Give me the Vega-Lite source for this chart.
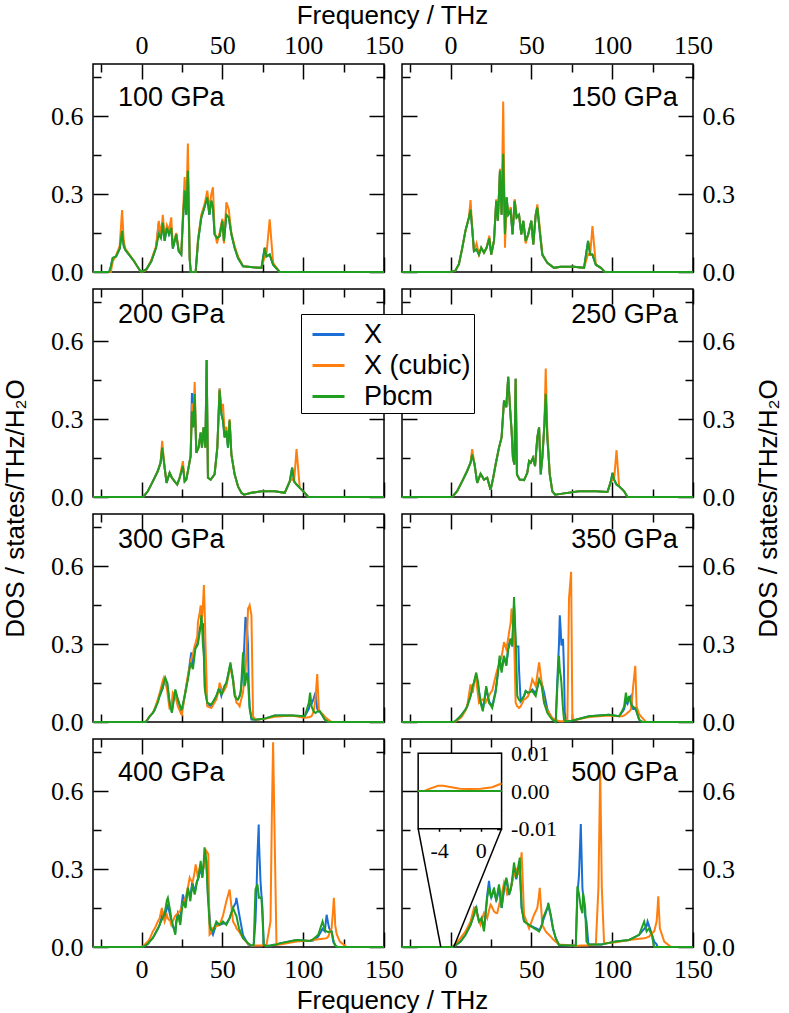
{
  "$schema": "https://vega.github.io/schema/vega-lite/v6.json",
  "padding": {"left": 2, "top": 3, "right": 0, "bottom": 0},
  "background": "white",
  "config": {
    "view": {"stroke": "black", "strokeWidth": 1.5},
    "axis": {"domain": false, "grid": false, "ticks": true, "tickSize": -15, "tickColor": "black", "tickWidth": 1.5, "labels": false, "labelFont": "Liberation Serif", "labelFontSize": 26, "labelColor": "black", "labelFlush": false, "labelOverlap": false},
    "axisBottom": {"labelPadding": 24},
    "axisTop": {"labelPadding": 21},
    "axisLeft": {"labelPadding": 25},
    "axisRight": {"labelPadding": 24},
    "title": {"font": "Liberation Sans", "fontSize": 26, "fontWeight": "normal", "color": "black", "anchor": "middle"}
  },
  "datasets": {
    "dos": [
      {"p":100,"f":-30,"X":0,"C":0,"P":0},{"p":100,"f":-20,"X":0,"C":0,"P":0},{"p":100,"f":-19,"X":0.02,"C":0,"P":0.02},{"p":100,"f":-17.8,"X":0.054,"C":0.04,"P":0.054},{"p":100,"f":-15.7,"X":0.06,"C":0.065,"P":0.06},{"p":100,"f":-13.5,"X":0.09,"C":0.1,"P":0.09},{"p":100,"f":-12,"X":0.158,"C":0.238,"P":0.158},{"p":100,"f":-11,"X":0.1,"C":0.12,"P":0.1},{"p":100,"f":-10,"X":0.085,"C":0.09,"P":0.085},{"p":100,"f":-5,"X":0.045,"C":0.045,"P":0.045},{"p":100,"f":-1,"X":0.006,"C":0.006,"P":0.006},{"p":100,"f":0,"X":0,"C":0,"P":0},{"p":100,"f":3,"X":0.01,"C":0.008,"P":0.01},{"p":100,"f":6,"X":0.04,"C":0.045,"P":0.04},{"p":100,"f":9,"X":0.093,"C":0.1,"P":0.093},{"p":100,"f":10.7,"X":0.19,"C":0.197,"P":0.145},{"p":100,"f":12,"X":0.13,"C":0.14,"P":0.13},{"p":100,"f":13.2,"X":0.19,"C":0.22,"P":0.19},{"p":100,"f":14.3,"X":0.12,"C":0.13,"P":0.12},{"p":100,"f":15.7,"X":0.17,"C":0.18,"P":0.17},{"p":100,"f":17,"X":0.145,"C":0.16,"P":0.145},{"p":100,"f":18.4,"X":0.17,"C":0.21,"P":0.17},{"p":100,"f":19.4,"X":0.09,"C":0.1,"P":0.09},{"p":100,"f":21.5,"X":0.145,"C":0.15,"P":0.145},{"p":100,"f":23,"X":0.08,"C":0.085,"P":0.08},{"p":100,"f":24.6,"X":0.067,"C":0.07,"P":0.067},{"p":100,"f":25.6,"X":0.197,"C":0.22,"P":0.197},{"p":100,"f":26.7,"X":0.313,"C":0.365,"P":0.313},{"p":100,"f":27.7,"X":0.22,"C":0.24,"P":0.22},{"p":100,"f":28.7,"X":0.39,"C":0.494,"P":0.39},{"p":100,"f":29.8,"X":0.05,"C":0.05,"P":0.05},{"p":100,"f":30.5,"X":0,"C":0,"P":0},{"p":100,"f":33.5,"X":0,"C":0,"P":0},{"p":100,"f":35,"X":0.12,"C":0.13,"P":0.12},{"p":100,"f":37,"X":0.21,"C":0.22,"P":0.21},{"p":100,"f":39,"X":0.25,"C":0.26,"P":0.25},{"p":100,"f":40.7,"X":0.287,"C":0.313,"P":0.287},{"p":100,"f":42,"X":0.22,"C":0.24,"P":0.22},{"p":100,"f":43.2,"X":0.274,"C":0.3,"P":0.274},{"p":100,"f":44.2,"X":0.25,"C":0.326,"P":0.25},{"p":100,"f":45.2,"X":0.145,"C":0.16,"P":0.145},{"p":100,"f":46.7,"X":0.13,"C":0.11,"P":0.13},{"p":100,"f":48.3,"X":0.138,"C":0.15,"P":0.138},{"p":100,"f":50,"X":0.197,"C":0.205,"P":0.197},{"p":100,"f":51,"X":0.12,"C":0.11,"P":0.12},{"p":100,"f":52.5,"X":0.22,"C":0.268,"P":0.22},{"p":100,"f":54,"X":0.21,"C":0.24,"P":0.21},{"p":100,"f":55.6,"X":0.145,"C":0.15,"P":0.145},{"p":100,"f":57.6,"X":0.093,"C":0.1,"P":0.093},{"p":100,"f":59.7,"X":0.054,"C":0.06,"P":0.054},{"p":100,"f":62.8,"X":0.022,"C":0.022,"P":0.022},{"p":100,"f":69,"X":0.018,"C":0.018,"P":0.018},{"p":100,"f":74.2,"X":0.016,"C":0.016,"P":0.016},{"p":100,"f":76.2,"X":0.093,"C":0.06,"P":0.093},{"p":100,"f":77.3,"X":0.06,"C":0.07,"P":0.06},{"p":100,"f":79.3,"X":0.067,"C":0.203,"P":0.067},{"p":100,"f":81.4,"X":0.028,"C":0.035,"P":0.028},{"p":100,"f":85.5,"X":0,"C":0,"P":0},{"p":100,"f":150,"X":0,"C":0,"P":0},

      {"p":150,"f":-30,"X":0,"C":0,"P":0},{"p":150,"f":0,"X":0,"C":0,"P":0},{"p":150,"f":3,"X":0.005,"C":0.005,"P":0.005},{"p":150,"f":5.2,"X":0.03,"C":0.03,"P":0.03},{"p":150,"f":7.2,"X":0.09,"C":0.09,"P":0.09},{"p":150,"f":9.3,"X":0.16,"C":0.16,"P":0.16},{"p":150,"f":11.4,"X":0.21,"C":0.21,"P":0.21},{"p":150,"f":12.4,"X":0.24,"C":0.277,"P":0.24},{"p":150,"f":13.4,"X":0.17,"C":0.17,"P":0.17},{"p":150,"f":14.5,"X":0.08,"C":0.08,"P":0.08},{"p":150,"f":16.1,"X":0.087,"C":0.11,"P":0.087},{"p":150,"f":17.6,"X":0.067,"C":0.067,"P":0.067},{"p":150,"f":19,"X":0.093,"C":0.093,"P":0.093},{"p":150,"f":20.7,"X":0.074,"C":0.074,"P":0.074},{"p":150,"f":22.3,"X":0.093,"C":0.093,"P":0.093},{"p":150,"f":24,"X":0.13,"C":0.14,"P":0.13},{"p":150,"f":25.2,"X":0.067,"C":0.067,"P":0.067},{"p":150,"f":26.9,"X":0.12,"C":0.12,"P":0.12},{"p":150,"f":28.3,"X":0.274,"C":0.28,"P":0.274},{"p":150,"f":29.3,"X":0.197,"C":0.197,"P":0.197},{"p":150,"f":30.6,"X":0.39,"C":0.397,"P":0.39},{"p":150,"f":31.6,"X":0.22,"C":0.22,"P":0.22},{"p":150,"f":32.6,"X":0.455,"C":0.656,"P":0.455},{"p":150,"f":33.7,"X":0.145,"C":0.093,"P":0.145},{"p":150,"f":34.7,"X":0.287,"C":0.287,"P":0.287},{"p":150,"f":35.7,"X":0.22,"C":0.22,"P":0.22},{"p":150,"f":37.2,"X":0.235,"C":0.25,"P":0.235},{"p":150,"f":38.4,"X":0.145,"C":0.145,"P":0.145},{"p":150,"f":39.7,"X":0.274,"C":0.28,"P":0.274},{"p":150,"f":40.9,"X":0.21,"C":0.21,"P":0.21},{"p":150,"f":42.4,"X":0.22,"C":0.22,"P":0.22},{"p":150,"f":43.8,"X":0.145,"C":0.145,"P":0.145},{"p":150,"f":45,"X":0.197,"C":0.197,"P":0.197},{"p":150,"f":46.5,"X":0.12,"C":0.11,"P":0.12},{"p":150,"f":48.1,"X":0.145,"C":0.145,"P":0.145},{"p":150,"f":50,"X":0.197,"C":0.197,"P":0.197},{"p":150,"f":51.2,"X":0.106,"C":0.106,"P":0.106},{"p":150,"f":52.7,"X":0.22,"C":0.22,"P":0.22},{"p":150,"f":53.7,"X":0.248,"C":0.26,"P":0.248},{"p":150,"f":55.4,"X":0.145,"C":0.16,"P":0.145},{"p":150,"f":56.8,"X":0.067,"C":0.067,"P":0.067},{"p":150,"f":59.9,"X":0.035,"C":0.035,"P":0.035},{"p":150,"f":64,"X":0.016,"C":0.016,"P":0.016},{"p":150,"f":68.2,"X":0.02,"C":0.02,"P":0.02},{"p":150,"f":76.4,"X":0.02,"C":0.02,"P":0.02},{"p":150,"f":82.6,"X":0.016,"C":0.016,"P":0.016},{"p":150,"f":85.1,"X":0.12,"C":0.07,"P":0.12},{"p":150,"f":86.4,"X":0.067,"C":0.067,"P":0.067},{"p":150,"f":87.8,"X":0.067,"C":0.177,"P":0.067},{"p":150,"f":89.9,"X":0.028,"C":0.028,"P":0.028},{"p":150,"f":93,"X":0.016,"C":0.016,"P":0.016},{"p":150,"f":95.5,"X":0,"C":0,"P":0},{"p":150,"f":150,"X":0,"C":0,"P":0},

      {"p":200,"f":-30,"X":0,"C":0,"P":0},{"p":200,"f":1,"X":0,"C":0,"P":0},{"p":200,"f":3.9,"X":0.022,"C":0.022,"P":0.022},{"p":200,"f":7,"X":0.06,"C":0.06,"P":0.06},{"p":200,"f":10.1,"X":0.1,"C":0.1,"P":0.1},{"p":200,"f":11.8,"X":0.132,"C":0.132,"P":0.132},{"p":200,"f":12.8,"X":0.19,"C":0.216,"P":0.19},{"p":200,"f":14.3,"X":0.113,"C":0.113,"P":0.113},{"p":200,"f":15.5,"X":0.054,"C":0.054,"P":0.054},{"p":200,"f":17.4,"X":0.093,"C":0.093,"P":0.093},{"p":200,"f":18.8,"X":0.074,"C":0.074,"P":0.074},{"p":200,"f":20.5,"X":0.06,"C":0.06,"P":0.06},{"p":200,"f":22.1,"X":0.048,"C":0.048,"P":0.048},{"p":200,"f":23.6,"X":0.074,"C":0.074,"P":0.074},{"p":200,"f":25.6,"X":0.119,"C":0.138,"P":0.119},{"p":200,"f":26.7,"X":0.06,"C":0.06,"P":0.06},{"p":200,"f":27.7,"X":0.067,"C":0.067,"P":0.067},{"p":200,"f":29.1,"X":0.113,"C":0.113,"P":0.113},{"p":200,"f":30.4,"X":0.158,"C":0.158,"P":0.158},{"p":200,"f":31.2,"X":0.4,"C":0.36,"P":0.33},{"p":200,"f":32,"X":0.268,"C":0.268,"P":0.268},{"p":200,"f":32.9,"X":0.397,"C":0.442,"P":0.397},{"p":200,"f":33.9,"X":0.17,"C":0.17,"P":0.17},{"p":200,"f":35.3,"X":0.19,"C":0.19,"P":0.19},{"p":200,"f":36.6,"X":0.248,"C":0.248,"P":0.248},{"p":200,"f":37.4,"X":0.19,"C":0.19,"P":0.19},{"p":200,"f":38.4,"X":0.268,"C":0.268,"P":0.268},{"p":200,"f":39.5,"X":0.19,"C":0.19,"P":0.19},{"p":200,"f":40.3,"X":0.527,"C":0.527,"P":0.527},{"p":200,"f":41.1,"X":0.074,"C":0.074,"P":0.074},{"p":200,"f":42.8,"X":0.067,"C":0.067,"P":0.067},{"p":200,"f":45.2,"X":0.087,"C":0.087,"P":0.087},{"p":200,"f":46.9,"X":0.19,"C":0.19,"P":0.19},{"p":200,"f":48.3,"X":0.417,"C":0.417,"P":0.41},{"p":200,"f":49.4,"X":0.32,"C":0.33,"P":0.32},{"p":200,"f":50.4,"X":0.294,"C":0.358,"P":0.294},{"p":200,"f":51.4,"X":0.229,"C":0.25,"P":0.229},{"p":200,"f":52.5,"X":0.255,"C":0.27,"P":0.255},{"p":200,"f":53.5,"X":0.19,"C":0.2,"P":0.19},{"p":200,"f":54.5,"X":0.294,"C":0.3,"P":0.294},{"p":200,"f":55.6,"X":0.164,"C":0.164,"P":0.164},{"p":200,"f":57.6,"X":0.087,"C":0.087,"P":0.087},{"p":200,"f":59.7,"X":0.041,"C":0.041,"P":0.041},{"p":200,"f":61.8,"X":0.016,"C":0.016,"P":0.016},{"p":200,"f":63.4,"X":0.009,"C":0.009,"P":0.009},{"p":200,"f":68,"X":0.016,"C":0.016,"P":0.016},{"p":200,"f":74.2,"X":0.022,"C":0.022,"P":0.022},{"p":200,"f":82.4,"X":0.022,"C":0.022,"P":0.022},{"p":200,"f":88.6,"X":0.016,"C":0.016,"P":0.016},{"p":200,"f":91.7,"X":0.06,"C":0.06,"P":0.06},{"p":200,"f":93.2,"X":0.113,"C":0.07,"P":0.113},{"p":200,"f":94.4,"X":0.06,"C":0.06,"P":0.06},{"p":200,"f":95.9,"X":0.048,"C":0.184,"P":0.048},{"p":200,"f":97.9,"X":0.035,"C":0.035,"P":0.035},{"p":200,"f":101,"X":0.016,"C":0.016,"P":0.016},{"p":200,"f":103.1,"X":0,"C":0,"P":0},{"p":200,"f":150,"X":0,"C":0,"P":0},

      {"p":250,"f":-30,"X":0,"C":0,"P":0},{"p":250,"f":1,"X":0,"C":0,"P":0},{"p":250,"f":4.1,"X":0.022,"C":0.022,"P":0.022},{"p":250,"f":7.2,"X":0.06,"C":0.06,"P":0.06},{"p":250,"f":10.3,"X":0.1,"C":0.1,"P":0.1},{"p":250,"f":12.4,"X":0.132,"C":0.132,"P":0.132},{"p":250,"f":13.4,"X":0.164,"C":0.184,"P":0.164},{"p":250,"f":14.9,"X":0.125,"C":0.125,"P":0.125},{"p":250,"f":16.5,"X":0.054,"C":0.054,"P":0.054},{"p":250,"f":18.6,"X":0.089,"C":0.089,"P":0.089},{"p":250,"f":20.7,"X":0.067,"C":0.067,"P":0.067},{"p":250,"f":22.7,"X":0.074,"C":0.074,"P":0.074},{"p":250,"f":24.8,"X":0.028,"C":0.028,"P":0.028},{"p":250,"f":26.2,"X":0.067,"C":0.067,"P":0.067},{"p":250,"f":27.9,"X":0.125,"C":0.125,"P":0.125},{"p":250,"f":30,"X":0.19,"C":0.19,"P":0.19},{"p":250,"f":31.6,"X":0.229,"C":0.229,"P":0.229},{"p":250,"f":33.1,"X":0.371,"C":0.371,"P":0.371},{"p":250,"f":34.5,"X":0.345,"C":0.345,"P":0.345},{"p":250,"f":35.7,"X":0.462,"C":0.462,"P":0.462},{"p":250,"f":36.8,"X":0.345,"C":0.345,"P":0.345},{"p":250,"f":37.8,"X":0.255,"C":0.255,"P":0.255},{"p":250,"f":38.6,"X":0.151,"C":0.151,"P":0.151},{"p":250,"f":39.5,"X":0.125,"C":0.125,"P":0.125},{"p":250,"f":40.3,"X":0.455,"C":0.455,"P":0.455},{"p":250,"f":41.1,"X":0.087,"C":0.087,"P":0.087},{"p":250,"f":42.8,"X":0.067,"C":0.067,"P":0.067},{"p":250,"f":45.5,"X":0.065,"C":0.065,"P":0.065},{"p":250,"f":47.5,"X":0.093,"C":0.093,"P":0.093},{"p":250,"f":48.6,"X":0.138,"C":0.138,"P":0.138},{"p":250,"f":49.6,"X":0.132,"C":0.132,"P":0.132},{"p":250,"f":51,"X":0.151,"C":0.151,"P":0.151},{"p":250,"f":52.3,"X":0.119,"C":0.119,"P":0.119},{"p":250,"f":53.7,"X":0.229,"C":0.229,"P":0.229},{"p":250,"f":54.8,"X":0.268,"C":0.268,"P":0.268},{"p":250,"f":55.8,"X":0.087,"C":0.1,"P":0.087},{"p":250,"f":56.8,"X":0.151,"C":0.151,"P":0.151},{"p":250,"f":58.1,"X":0.281,"C":0.281,"P":0.281},{"p":250,"f":58.9,"X":0.397,"C":0.494,"P":0.397},{"p":250,"f":59.9,"X":0.229,"C":0.25,"P":0.229},{"p":250,"f":61.4,"X":0.087,"C":0.087,"P":0.087},{"p":250,"f":63,"X":0.022,"C":0.022,"P":0.022},{"p":250,"f":64.7,"X":0.009,"C":0.009,"P":0.009},{"p":250,"f":69.2,"X":0.013,"C":0.013,"P":0.013},{"p":250,"f":79.5,"X":0.022,"C":0.022,"P":0.022},{"p":250,"f":89.9,"X":0.022,"C":0.022,"P":0.022},{"p":250,"f":97.1,"X":0.019,"C":0.019,"P":0.019},{"p":250,"f":99.2,"X":0.06,"C":0.06,"P":0.06},{"p":250,"f":100.2,"X":0.093,"C":0.065,"P":0.093},{"p":250,"f":101.2,"X":0.067,"C":0.067,"P":0.067},{"p":250,"f":102.7,"X":0.048,"C":0.18,"P":0.048},{"p":250,"f":104.3,"X":0.041,"C":0.041,"P":0.041},{"p":250,"f":107.4,"X":0.022,"C":0.022,"P":0.022},{"p":250,"f":109.5,"X":0,"C":0,"P":0},{"p":250,"f":150,"X":0,"C":0,"P":0},

      {"p":300,"f":-30,"X":0,"C":0,"P":0},{"p":300,"f":2,"X":0,"C":0,"P":0},{"p":300,"f":3,"X":0.002,"C":0.004,"P":0.002},{"p":300,"f":5,"X":0.02,"C":0.022,"P":0.022},{"p":300,"f":7,"X":0.035,"C":0.035,"P":0.035},{"p":300,"f":8.1,"X":0.045,"C":0.05,"P":0.048},{"p":300,"f":10.1,"X":0.08,"C":0.087,"P":0.075},{"p":300,"f":11.2,"X":0.1,"C":0.11,"P":0.1},{"p":300,"f":13.2,"X":0.13,"C":0.16,"P":0.138},{"p":300,"f":13.8,"X":0.15,"C":0.17,"P":0.15},{"p":300,"f":14.7,"X":0.165,"C":0.15,"P":0.17},{"p":300,"f":15.3,"X":0.155,"C":0.138,"P":0.16},{"p":300,"f":15.9,"X":0.15,"C":0.12,"P":0.151},{"p":300,"f":17.4,"X":0.07,"C":0.048,"P":0.074},{"p":300,"f":18.8,"X":0.04,"C":0.08,"P":0.035},{"p":300,"f":19.4,"X":0.07,"C":0.113,"P":0.06},{"p":300,"f":20.9,"X":0.12,"C":0.1,"P":0.125},{"p":300,"f":22.5,"X":0.085,"C":0.06,"P":0.087},{"p":300,"f":24.6,"X":0.045,"C":0.03,"P":0.048},{"p":300,"f":25,"X":0.045,"C":0.028,"P":0.05},{"p":300,"f":26.7,"X":0.1,"C":0.1,"P":0.1},{"p":300,"f":27.7,"X":0.14,"C":0.138,"P":0.13},{"p":300,"f":28.7,"X":0.17,"C":0.18,"P":0.164},{"p":300,"f":30.4,"X":0.25,"C":0.23,"P":0.229},{"p":300,"f":30.8,"X":0.268,"C":0.242,"P":0.22},{"p":300,"f":31.8,"X":0.22,"C":0.26,"P":0.203},{"p":300,"f":32.9,"X":0.28,"C":0.294,"P":0.26},{"p":300,"f":33.3,"X":0.29,"C":0.3,"P":0.281},{"p":300,"f":34.5,"X":0.3,"C":0.33,"P":0.294},{"p":300,"f":34.9,"X":0.31,"C":0.384,"P":0.3},{"p":300,"f":36,"X":0.36,"C":0.42,"P":0.345},{"p":300,"f":36.6,"X":0.37,"C":0.449,"P":0.37},{"p":300,"f":37,"X":0.4,"C":0.41,"P":0.41},{"p":300,"f":37.4,"X":0.37,"C":0.397,"P":0.38},{"p":300,"f":38,"X":0.38,"C":0.45,"P":0.294},{"p":300,"f":38.6,"X":0.3,"C":0.527,"P":0.25},{"p":300,"f":39,"X":0.2,"C":0.45,"P":0.138},{"p":300,"f":39.5,"X":0.13,"C":0.32,"P":0.11},{"p":300,"f":40.7,"X":0.07,"C":0.06,"P":0.074},{"p":300,"f":43.2,"X":0.06,"C":0.054,"P":0.067},{"p":300,"f":46.3,"X":0.1,"C":0.087,"P":0.1},{"p":300,"f":47.7,"X":0.125,"C":0.12,"P":0.125},{"p":300,"f":48.3,"X":0.13,"C":0.151,"P":0.12},{"p":300,"f":49.4,"X":0.1,"C":0.13,"P":0.106},{"p":300,"f":50.4,"X":0.12,"C":0.113,"P":0.12},{"p":300,"f":51.4,"X":0.14,"C":0.125,"P":0.138},{"p":300,"f":52.5,"X":0.15,"C":0.138,"P":0.15},{"p":300,"f":53.5,"X":0.18,"C":0.17,"P":0.177},{"p":300,"f":55,"X":0.22,"C":0.216,"P":0.229},{"p":300,"f":56.2,"X":0.18,"C":0.17,"P":0.177},{"p":300,"f":56.6,"X":0.17,"C":0.164,"P":0.16},{"p":300,"f":57.6,"X":0.11,"C":0.12,"P":0.1},{"p":300,"f":58.7,"X":0.085,"C":0.074,"P":0.09},{"p":300,"f":59.7,"X":0.087,"C":0.07,"P":0.087},{"p":300,"f":60.7,"X":0.1,"C":0.06,"P":0.1},{"p":300,"f":61.4,"X":0.12,"C":0.08,"P":0.113},{"p":300,"f":62.8,"X":0.2,"C":0.113,"P":0.268},{"p":300,"f":63.4,"X":0.268,"C":0.15,"P":0.2},{"p":300,"f":63.8,"X":0.33,"C":0.17,"P":0.138},{"p":300,"f":64.3,"X":0.404,"C":0.19,"P":0.15},{"p":300,"f":65.1,"X":0.384,"C":0.3,"P":0.19},{"p":300,"f":65.9,"X":0.294,"C":0.436,"P":0.16},{"p":300,"f":66.3,"X":0.15,"C":0.44,"P":0.113},{"p":300,"f":66.9,"X":0.06,"C":0.449,"P":0.05},{"p":300,"f":68,"X":0.01,"C":0.41,"P":0.016},{"p":300,"f":69,"X":0.01,"C":0.022,"P":0.01},{"p":300,"f":70.5,"X":0.009,"C":0.009,"P":0.009},{"p":300,"f":76.2,"X":0.013,"C":0.012,"P":0.013},{"p":300,"f":82.4,"X":0.025,"C":0.02,"P":0.025},{"p":300,"f":92.8,"X":0.025,"C":0.025,"P":0.025},{"p":300,"f":101,"X":0.022,"C":0.016,"P":0.022},{"p":300,"f":103.5,"X":0.05,"C":0.018,"P":0.074},{"p":300,"f":104.3,"X":0.07,"C":0.02,"P":0.113},{"p":300,"f":105.2,"X":0.07,"C":0.022,"P":0.06},{"p":300,"f":106.5,"X":0.09,"C":0.04,"P":0.04},{"p":300,"f":107.6,"X":0.113,"C":0.087,"P":0.035},{"p":300,"f":108.7,"X":0.05,"C":0.184,"P":0.04},{"p":300,"f":109.7,"X":0.04,"C":0.048,"P":0.041},{"p":300,"f":110.3,"X":0.04,"C":0.04,"P":0.041},{"p":300,"f":112.4,"X":0.02,"C":0.028,"P":0.02},{"p":300,"f":113.4,"X":0.009,"C":0.02,"P":0.009},{"p":300,"f":115.5,"X":0,"C":0.009,"P":0},{"p":300,"f":117.6,"X":0,"C":0,"P":0},{"p":300,"f":150,"X":0,"C":0,"P":0},

      {"p":350,"f":-30,"X":0,"C":0,"P":0},{"p":350,"f":2,"X":0,"C":0,"P":0},{"p":350,"f":3,"X":0.003,"C":0.002,"P":0.003},{"p":350,"f":6.2,"X":0.022,"C":0.015,"P":0.022},{"p":350,"f":7.2,"X":0.03,"C":0.022,"P":0.03},{"p":350,"f":9.3,"X":0.048,"C":0.045,"P":0.048},{"p":350,"f":10.3,"X":0.06,"C":0.06,"P":0.06},{"p":350,"f":12.4,"X":0.1,"C":0.145,"P":0.1},{"p":350,"f":13.8,"X":0.13,"C":0.113,"P":0.14},{"p":350,"f":14.5,"X":0.151,"C":0.15,"P":0.151},{"p":350,"f":15.5,"X":0.17,"C":0.177,"P":0.18},{"p":350,"f":15.9,"X":0.18,"C":0.16,"P":0.19},{"p":350,"f":17.1,"X":0.14,"C":0.1,"P":0.151},{"p":350,"f":17.6,"X":0.12,"C":0.074,"P":0.12},{"p":350,"f":18.6,"X":0.08,"C":0.08,"P":0.074},{"p":350,"f":19.6,"X":0.06,"C":0.087,"P":0.05},{"p":350,"f":20,"X":0.05,"C":0.085,"P":0.041},{"p":350,"f":21.7,"X":0.11,"C":0.074,"P":0.12},{"p":350,"f":22.1,"X":0.13,"C":0.08,"P":0.138},{"p":350,"f":23.8,"X":0.08,"C":0.1,"P":0.074},{"p":350,"f":24.8,"X":0.07,"C":0.113,"P":0.065},{"p":350,"f":25.8,"X":0.06,"C":0.12,"P":0.054},{"p":350,"f":27.9,"X":0.12,"C":0.177,"P":0.113},{"p":350,"f":28.9,"X":0.17,"C":0.2,"P":0.164},{"p":350,"f":30.4,"X":0.24,"C":0.229,"P":0.255},{"p":350,"f":31.6,"X":0.2,"C":0.25,"P":0.19},{"p":350,"f":33.1,"X":0.25,"C":0.307,"P":0.255},{"p":350,"f":34.5,"X":0.22,"C":0.281,"P":0.216},{"p":350,"f":35.7,"X":0.28,"C":0.32,"P":0.281},{"p":350,"f":36.2,"X":0.3,"C":0.345,"P":0.29},{"p":350,"f":37.2,"X":0.32,"C":0.38,"P":0.32},{"p":350,"f":37.8,"X":0.3,"C":0.436,"P":0.3},{"p":350,"f":38.2,"X":0.29,"C":0.4,"P":0.294},{"p":350,"f":39.3,"X":0.45,"C":0.332,"P":0.481},{"p":350,"f":40.3,"X":0.294,"C":0.074,"P":0.32},{"p":350,"f":41.3,"X":0.29,"C":0.06,"P":0.1},{"p":350,"f":42,"X":0.29,"C":0.058,"P":0.09},{"p":350,"f":42.4,"X":0.2,"C":0.054,"P":0.085},{"p":350,"f":43.4,"X":0.08,"C":0.06,"P":0.08},{"p":350,"f":45.5,"X":0.1,"C":0.087,"P":0.1},{"p":350,"f":46.5,"X":0.119,"C":0.09,"P":0.119},{"p":350,"f":48.1,"X":0.11,"C":0.1,"P":0.113},{"p":350,"f":48.6,"X":0.113,"C":0.11,"P":0.113},{"p":350,"f":50.6,"X":0.125,"C":0.164,"P":0.119},{"p":350,"f":52.7,"X":0.11,"C":0.138,"P":0.1},{"p":350,"f":54.8,"X":0.16,"C":0.229,"P":0.164},{"p":350,"f":56.4,"X":0.15,"C":0.151,"P":0.138},{"p":350,"f":57.9,"X":0.113,"C":0.074,"P":0.074},{"p":350,"f":59.9,"X":0.05,"C":0.045,"P":0.035},{"p":350,"f":61,"X":0.035,"C":0.035,"P":0.025},{"p":350,"f":63,"X":0.012,"C":0.015,"P":0.009},{"p":350,"f":65.1,"X":0.005,"C":0.009,"P":0},{"p":350,"f":66.1,"X":0.164,"C":0.006,"P":0.138},{"p":350,"f":67.1,"X":0.3,"C":0.004,"P":0.255},{"p":350,"f":67.6,"X":0.41,"C":0.003,"P":0.2},{"p":350,"f":68.2,"X":0.35,"C":0.003,"P":0.177},{"p":350,"f":68.6,"X":0.294,"C":0.003,"P":0.15},{"p":350,"f":69.2,"X":0.31,"C":0.003,"P":0.087},{"p":350,"f":69.6,"X":0.32,"C":0.003,"P":0.05},{"p":350,"f":70.2,"X":0.2,"C":0.004,"P":0.009},{"p":350,"f":70.7,"X":0.035,"C":0.005,"P":0.005},{"p":350,"f":71.7,"X":0.003,"C":0.007,"P":0.003},{"p":350,"f":72.3,"X":0.003,"C":0.009,"P":0.003},{"p":350,"f":73.3,"X":0.004,"C":0.475,"P":0.004},{"p":350,"f":74.6,"X":0.005,"C":0.578,"P":0.005},{"p":350,"f":75.4,"X":0.006,"C":0.009,"P":0.006},{"p":350,"f":77.5,"X":0.009,"C":0.009,"P":0.009},{"p":350,"f":85.7,"X":0.022,"C":0.019,"P":0.022},{"p":350,"f":98.1,"X":0.028,"C":0.025,"P":0.028},{"p":350,"f":104.3,"X":0.022,"C":0.022,"P":0.022},{"p":350,"f":106.4,"X":0.04,"C":0.022,"P":0.045},{"p":350,"f":107.4,"X":0.05,"C":0.025,"P":0.06},{"p":350,"f":108.5,"X":0.08,"C":0.03,"P":0.113},{"p":350,"f":109.5,"X":0.07,"C":0.035,"P":0.074},{"p":350,"f":110.5,"X":0.09,"C":0.04,"P":0.1},{"p":350,"f":111.6,"X":0.1,"C":0.048,"P":0.07},{"p":350,"f":112.2,"X":0.07,"C":0.08,"P":0.06},{"p":350,"f":113,"X":0.05,"C":0.138,"P":0.058},{"p":350,"f":114.3,"X":0.05,"C":0.216,"P":0.054},{"p":350,"f":115.1,"X":0.04,"C":0.06,"P":0.04},{"p":350,"f":116.7,"X":0.009,"C":0.03,"P":0.009},{"p":350,"f":117.8,"X":0.003,"C":0.022,"P":0.003},{"p":350,"f":118.8,"X":0,"C":0.015,"P":0},{"p":350,"f":120.9,"X":0,"C":0,"P":0},{"p":350,"f":150,"X":0,"C":0,"P":0},

      {"p":400,"f":-30,"X":0,"C":0,"P":0},{"p":400,"f":0,"X":0,"C":0,"P":0},{"p":400,"f":1,"X":0.001,"C":0.003,"P":0.001},{"p":400,"f":3.9,"X":0.012,"C":0.021,"P":0.012},{"p":400,"f":5,"X":0.021,"C":0.03,"P":0.021},{"p":400,"f":7,"X":0.035,"C":0.06,"P":0.035},{"p":400,"f":8.1,"X":0.047,"C":0.07,"P":0.047},{"p":400,"f":10.1,"X":0.07,"C":0.098,"P":0.07},{"p":400,"f":11.2,"X":0.085,"C":0.11,"P":0.085},{"p":400,"f":12.6,"X":0.12,"C":0.15,"P":0.105},{"p":400,"f":13.2,"X":0.13,"C":0.13,"P":0.111},{"p":400,"f":14.3,"X":0.11,"C":0.098,"P":0.13},{"p":400,"f":14.9,"X":0.13,"C":0.11,"P":0.15},{"p":400,"f":15.7,"X":0.15,"C":0.124,"P":0.18},{"p":400,"f":16.3,"X":0.16,"C":0.11,"P":0.189},{"p":400,"f":17.8,"X":0.12,"C":0.1,"P":0.137},{"p":400,"f":18.4,"X":0.1,"C":0.085,"P":0.11},{"p":400,"f":19.4,"X":0.08,"C":0.1,"P":0.085},{"p":400,"f":20.9,"X":0.06,"C":0.12,"P":0.047},{"p":400,"f":21.5,"X":0.1,"C":0.124,"P":0.09},{"p":400,"f":22.5,"X":0.13,"C":0.13,"P":0.124},{"p":400,"f":24,"X":0.1,"C":0.14,"P":0.085},{"p":400,"f":24.6,"X":0.15,"C":0.15,"P":0.12},{"p":400,"f":25.6,"X":0.202,"C":0.17,"P":0.176},{"p":400,"f":27.3,"X":0.16,"C":0.19,"P":0.15},{"p":400,"f":27.7,"X":0.18,"C":0.202,"P":0.18},{"p":400,"f":28.7,"X":0.22,"C":0.23,"P":0.228},{"p":400,"f":29.8,"X":0.2,"C":0.266,"P":0.19},{"p":400,"f":30.2,"X":0.19,"C":0.26,"P":0.176},{"p":400,"f":31.4,"X":0.25,"C":0.25,"P":0.241},{"p":400,"f":31.8,"X":0.24,"C":0.254,"P":0.23},{"p":400,"f":32.9,"X":0.21,"C":0.29,"P":0.202},{"p":400,"f":33.5,"X":0.23,"C":0.318,"P":0.22},{"p":400,"f":34.3,"X":0.25,"C":0.29,"P":0.254},{"p":400,"f":34.9,"X":0.26,"C":0.266,"P":0.26},{"p":400,"f":35.5,"X":0.27,"C":0.29,"P":0.279},{"p":400,"f":36.4,"X":0.3,"C":0.318,"P":0.32},{"p":400,"f":36.6,"X":0.31,"C":0.31,"P":0.331},{"p":400,"f":37.6,"X":0.27,"C":0.305,"P":0.266},{"p":400,"f":38.4,"X":0.31,"C":0.305,"P":0.32},{"p":400,"f":39,"X":0.35,"C":0.33,"P":0.383},{"p":400,"f":40.1,"X":0.33,"C":0.37,"P":0.331},{"p":400,"f":41.1,"X":0.2,"C":0.36,"P":0.189},{"p":400,"f":41.3,"X":0.19,"C":0.357,"P":0.17},{"p":400,"f":42.1,"X":0.12,"C":0.047,"P":0.09},{"p":400,"f":42.6,"X":0.08,"C":0.05,"P":0.072},{"p":400,"f":43.2,"X":0.06,"C":0.06,"P":0.065},{"p":400,"f":44.2,"X":0.047,"C":0.072,"P":0.06},{"p":400,"f":46.3,"X":0.09,"C":0.08,"P":0.098},{"p":400,"f":48.3,"X":0.085,"C":0.085,"P":0.085},{"p":400,"f":50.4,"X":0.09,"C":0.12,"P":0.098},{"p":400,"f":52.5,"X":0.09,"C":0.176,"P":0.085},{"p":400,"f":54.5,"X":0.11,"C":0.221,"P":0.111},{"p":400,"f":56.6,"X":0.15,"C":0.098,"P":0.15},{"p":400,"f":58.3,"X":0.17,"C":0.08,"P":0.124},{"p":400,"f":58.7,"X":0.189,"C":0.072,"P":0.12},{"p":400,"f":60.3,"X":0.13,"C":0.06,"P":0.072},{"p":400,"f":62.8,"X":0.045,"C":0.034,"P":0.034},{"p":400,"f":66,"X":0.01,"C":0.012,"P":0.014},{"p":400,"f":68,"X":0.005,"C":0.005,"P":0.005},{"p":400,"f":69.4,"X":0.006,"C":0.006,"P":0.008},{"p":400,"f":70.5,"X":0.1,"C":0.006,"P":0.221},{"p":400,"f":71.1,"X":0.202,"C":0.006,"P":0.23},{"p":400,"f":71.7,"X":0.35,"C":0.006,"P":0.241},{"p":400,"f":72.5,"X":0.471,"C":0.006,"P":0.2},{"p":400,"f":72.7,"X":0.4,"C":0.006,"P":0.189},{"p":400,"f":73.6,"X":0.254,"C":0.006,"P":0.19},{"p":400,"f":74.2,"X":0.2,"C":0.006,"P":0.189},{"p":400,"f":74.8,"X":0.15,"C":0.006,"P":0.12},{"p":400,"f":75.6,"X":0.01,"C":0.007,"P":0.008},{"p":400,"f":77.3,"X":0.005,"C":0.008,"P":0.004},{"p":400,"f":79.8,"X":0.006,"C":0.098,"P":0.006},{"p":400,"f":80.6,"X":0.007,"C":0.493,"P":0.007},{"p":400,"f":81.4,"X":0.008,"C":0.787,"P":0.008},{"p":400,"f":82.2,"X":0.009,"C":0.486,"P":0.009},{"p":400,"f":83.5,"X":0.01,"C":0.008,"P":0.01},{"p":400,"f":85.5,"X":0.014,"C":0.01,"P":0.014},{"p":400,"f":95.9,"X":0.027,"C":0.021,"P":0.027},{"p":400,"f":104.1,"X":0.023,"C":0.025,"P":0.023},{"p":400,"f":106.2,"X":0.025,"C":0.027,"P":0.03},{"p":400,"f":109.3,"X":0.04,"C":0.03,"P":0.047},{"p":400,"f":112,"X":0.07,"C":0.032,"P":0.098},{"p":400,"f":113.4,"X":0.06,"C":0.033,"P":0.066},{"p":400,"f":114.5,"X":0.124,"C":0.034,"P":0.06},{"p":400,"f":115.5,"X":0.09,"C":0.04,"P":0.057},{"p":400,"f":116.1,"X":0.072,"C":0.05,"P":0.06},{"p":400,"f":117.6,"X":0.06,"C":0.072,"P":0.06},{"p":400,"f":118.6,"X":0.02,"C":0.15,"P":0.03},{"p":400,"f":119,"X":0.015,"C":0.189,"P":0.02},{"p":400,"f":119.6,"X":0.01,"C":0.12,"P":0.008},{"p":400,"f":119.8,"X":0.008,"C":0.085,"P":0.006},{"p":400,"f":120.7,"X":0,"C":0.05,"P":0.002},{"p":400,"f":121.7,"X":0,"C":0.035,"P":0},{"p":400,"f":122.7,"X":0,"C":0.021,"P":0},{"p":400,"f":126.9,"X":0,"C":0,"P":0},{"p":400,"f":150,"X":0,"C":0,"P":0},

      {"p":500,"f":-30,"X":0,"C":0,"P":0},{"p":500,"f":1,"X":0,"C":0,"P":0},{"p":500,"f":2,"X":0.002,"C":0.005,"P":0.002},{"p":500,"f":6.2,"X":0.021,"C":0.034,"P":0.021},{"p":500,"f":9.3,"X":0.047,"C":0.06,"P":0.047},{"p":500,"f":12.4,"X":0.085,"C":0.098,"P":0.085},{"p":500,"f":14.5,"X":0.124,"C":0.15,"P":0.124},{"p":500,"f":15.9,"X":0.15,"C":0.13,"P":0.157},{"p":500,"f":16.5,"X":0.13,"C":0.124,"P":0.13},{"p":500,"f":17.6,"X":0.1,"C":0.1,"P":0.098},{"p":500,"f":18.6,"X":0.1,"C":0.085,"P":0.105},{"p":500,"f":19.2,"X":0.11,"C":0.1,"P":0.111},{"p":500,"f":20.7,"X":0.07,"C":0.131,"P":0.06},{"p":500,"f":22.1,"X":0.16,"C":0.12,"P":0.15},{"p":500,"f":22.7,"X":0.2,"C":0.111,"P":0.19},{"p":500,"f":23.8,"X":0.254,"C":0.14,"P":0.228},{"p":500,"f":24.8,"X":0.2,"C":0.163,"P":0.2},{"p":500,"f":25.2,"X":0.19,"C":0.16,"P":0.189},{"p":500,"f":26.9,"X":0.22,"C":0.137,"P":0.228},{"p":500,"f":28.3,"X":0.18,"C":0.13,"P":0.176},{"p":500,"f":28.9,"X":0.19,"C":0.131,"P":0.2},{"p":500,"f":30,"X":0.23,"C":0.16,"P":0.241},{"p":500,"f":31,"X":0.18,"C":0.189,"P":0.19},{"p":500,"f":31.6,"X":0.15,"C":0.2,"P":0.15},{"p":500,"f":33.1,"X":0.22,"C":0.247,"P":0.228},{"p":500,"f":34.5,"X":0.26,"C":0.22,"P":0.266},{"p":500,"f":35.1,"X":0.24,"C":0.202,"P":0.25},{"p":500,"f":36.2,"X":0.2,"C":0.21,"P":0.202},{"p":500,"f":37.2,"X":0.22,"C":0.228,"P":0.22},{"p":500,"f":37.8,"X":0.24,"C":0.24,"P":0.241},{"p":500,"f":39.3,"X":0.3,"C":0.279,"P":0.325},{"p":500,"f":40.7,"X":0.26,"C":0.29,"P":0.266},{"p":500,"f":41.3,"X":0.28,"C":0.305,"P":0.28},{"p":500,"f":41.9,"X":0.3,"C":0.29,"P":0.305},{"p":500,"f":42.4,"X":0.33,"C":0.28,"P":0.32},{"p":500,"f":42.8,"X":0.3,"C":0.279,"P":0.344},{"p":500,"f":44,"X":0.15,"C":0.364,"P":0.15},{"p":500,"f":45.5,"X":0.1,"C":0.124,"P":0.098},{"p":500,"f":48.6,"X":0.085,"C":0.072,"P":0.085},{"p":500,"f":51.7,"X":0.075,"C":0.124,"P":0.072},{"p":500,"f":53.7,"X":0.07,"C":0.15,"P":0.065},{"p":500,"f":54.8,"X":0.065,"C":0.2,"P":0.06},{"p":500,"f":55.2,"X":0.065,"C":0.228,"P":0.065},{"p":500,"f":56.8,"X":0.09,"C":0.085,"P":0.09},{"p":500,"f":57.2,"X":0.1,"C":0.08,"P":0.111},{"p":500,"f":58.9,"X":0.13,"C":0.06,"P":0.137},{"p":500,"f":59.9,"X":0.15,"C":0.053,"P":0.15},{"p":500,"f":60.5,"X":0.16,"C":0.05,"P":0.169},{"p":500,"f":62,"X":0.12,"C":0.04,"P":0.124},{"p":500,"f":63.4,"X":0.07,"C":0.03,"P":0.072},{"p":500,"f":65.1,"X":0.034,"C":0.02,"P":0.034},{"p":500,"f":67.1,"X":0.008,"C":0.01,"P":0.008},{"p":500,"f":77.5,"X":0.005,"C":0.005,"P":0.005},{"p":500,"f":78.5,"X":0.2,"C":0.005,"P":0.234},{"p":500,"f":79.5,"X":0.279,"C":0.005,"P":0.202},{"p":500,"f":80.6,"X":0.473,"C":0.006,"P":0.15},{"p":500,"f":81.6,"X":0.228,"C":0.006,"P":0.13},{"p":500,"f":82,"X":0.2,"C":0.006,"P":0.208},{"p":500,"f":82.9,"X":0.15,"C":0.006,"P":0.17},{"p":500,"f":83.3,"X":0.12,"C":0.006,"P":0.15},{"p":500,"f":84.1,"X":0.098,"C":0.006,"P":0.021},{"p":500,"f":85.3,"X":0.01,"C":0.007,"P":0.01},{"p":500,"f":89.9,"X":0.01,"C":0.01,"P":0.01},{"p":500,"f":91.5,"X":0.01,"C":0.228,"P":0.01},{"p":500,"f":92.6,"X":0.01,"C":0.68,"P":0.01},{"p":500,"f":93.6,"X":0.01,"C":0.228,"P":0.01},{"p":500,"f":95,"X":0.012,"C":0.014,"P":0.012},{"p":500,"f":102.3,"X":0.021,"C":0.018,"P":0.021},{"p":500,"f":110.5,"X":0.027,"C":0.027,"P":0.027},{"p":500,"f":116.7,"X":0.047,"C":0.032,"P":0.047},{"p":500,"f":119.8,"X":0.07,"C":0.034,"P":0.098},{"p":500,"f":121.3,"X":0.08,"C":0.036,"P":0.06},{"p":500,"f":121.9,"X":0.098,"C":0.038,"P":0.065},{"p":500,"f":122.9,"X":0.08,"C":0.04,"P":0.072},{"p":500,"f":123.4,"X":0.072,"C":0.045,"P":0.06},{"p":500,"f":124.6,"X":0.047,"C":0.05,"P":0.047},{"p":500,"f":125,"X":0.04,"C":0.055,"P":0.03},{"p":500,"f":126,"X":0.02,"C":0.06,"P":0},{"p":500,"f":127.5,"X":0.01,"C":0.098,"P":0},{"p":500,"f":128.1,"X":0,"C":0.15,"P":0},{"p":500,"f":128.5,"X":0,"C":0.195,"P":0},{"p":500,"f":129.5,"X":0,"C":0.072,"P":0},{"p":500,"f":132.2,"X":0,"C":0.021,"P":0},{"p":500,"f":136.4,"X":0,"C":0,"P":0},{"p":500,"f":150,"X":0,"C":0,"P":0}
    ],
    "inset": [
      {"f":-6,"X":0,"C":0,"P":0},{"f":-5.4,"X":0,"C":0,"P":0},{"f":-5,"X":0,"C":0.0005,"P":0},{"f":-4.1,"X":0,"C":0.0014,"P":0},{"f":-3.6,"X":0,"C":0.0014,"P":0},{"f":-2.8,"X":0,"C":0.001,"P":0},{"f":-2,"X":0,"C":0.0006,"P":0},{"f":-1.1,"X":0,"C":0.0005,"P":0},{"f":0,"X":0,"C":0.0006,"P":0},{"f":1.1,"X":0,"C":0.001,"P":0},{"f":2,"X":0,"C":0.002,"P":0}
    ]
  },
  "title": {"text": "DOS / states/THz/H₂O", "orient": "right", "angle": -90, "offset": -5, "anchor": "middle"},
  "vconcat": [{
    "title": {"text": "DOS / states/THz/H₂O", "orient": "left", "offset": 21, "anchor": "middle"},
    "spacing": 1,
    "vconcat": [
      {
        "title": {"text": "Frequency / THz", "orient": "top", "offset": 2, "anchor": "middle"},
        "spacing": 18,
        "bounds": "flush",
        "hconcat": [
          {"width": 291, "height": 208,
           "layer": [
             {"data": {"name": "dos"}, "transform": [{"filter": "datum.p == 100"}, {"fold": ["X", "C", "P"], "as": ["s", "d"]}],
              "mark": {"type": "line", "strokeWidth": 2},
              "encoding": {
                "x": {"field": "f", "type": "quantitative", "scale": {"domain": [-30, 150], "nice": false}, "axis": {"orient": "bottom", "values": [0, 50, 100, 150], "title": null}},
                "y": {"field": "d", "type": "quantitative", "scale": {"domain": [0, 0.8], "nice": false}, "axis": {"orient": "left", "values": [0, 0.3, 0.6], "format": ".1f", "labels": true, "title": null}},
                "color": {"field": "s", "type": "nominal", "scale": {"domain": ["X", "C", "P"], "range": ["#1a6fd6", "#ff7f0e", "#1f9e1f"]},
                  "legend": {"title": null, "orient": "none", "legendX": 208, "legendY": 250, "direction": "vertical", "symbolType": "stroke", "symbolSize": 1024, "symbolStrokeWidth": 3, "labelFont": "Liberation Sans", "labelFontSize": 27, "labelColor": "black", "labelOffset": 18, "symbolOffset": 7, "strokeColor": "black", "fillColor": "white", "padding": 3, "rowPadding": 0,
                    "labelExpr": "datum.label == 'C' ? 'X (cubic)' : datum.label == 'P' ? 'Pbcm' : 'X'"}}
              }},
             {"data": {"values": [{}]}, "mark": {"type": "point", "opacity": 0}, "encoding": {
               "x": {"datum": 0, "type": "quantitative", "axis": {"orient": "top", "values": [0, 50, 100, 150], "labels": true, "title": null}},
               "y": {"datum": 0, "type": "quantitative", "axis": {"orient": "right", "values": [0, 0.3, 0.6], "title": null}}}},
             {"data": {"values": [{}]}, "mark": {"type": "point", "opacity": 0}, "encoding": {
               "x": {"datum": 0, "type": "quantitative", "axis": {"orient": "bottom", "values": [-25, 25, 75, 125], "tickSize": -8, "title": null}},
               "y": {"datum": 0, "type": "quantitative", "axis": {"orient": "left", "values": [0.15, 0.45, 0.75], "tickSize": -8, "title": null}}}},
             {"data": {"values": [{}]}, "mark": {"type": "point", "opacity": 0}, "encoding": {
               "x": {"datum": 0, "type": "quantitative", "axis": {"orient": "top", "values": [-25, 25, 75, 125], "tickSize": -8, "title": null}},
               "y": {"datum": 0, "type": "quantitative", "axis": {"orient": "right", "values": [0.15, 0.45, 0.75], "tickSize": -8, "title": null}}}},
             {"data": {"values": [{}]}, "mark": {"type": "text", "font": "Liberation Sans", "fontSize": 27, "color": "black", "align": "left", "baseline": "alphabetic"}, "encoding": {
               "x": {"datum": -14.5, "type": "quantitative", "axis": null}, "y": {"datum": 0.637, "type": "quantitative", "axis": null}, "text": {"value": "100 GPa"}}}
           ],
           "resolve": {"axis": {"x": "independent", "y": "independent"}}},
          {"width": 291, "height": 208,
           "layer": [
             {"data": {"name": "dos"}, "transform": [{"filter": "datum.p == 150"}, {"fold": ["X", "C", "P"], "as": ["s", "d"]}],
              "mark": {"type": "line", "strokeWidth": 2},
              "encoding": {
                "x": {"field": "f", "type": "quantitative", "scale": {"domain": [-30, 150], "nice": false}, "axis": {"orient": "bottom", "values": [0, 50, 100, 150], "title": null}},
                "y": {"field": "d", "type": "quantitative", "scale": {"domain": [0, 0.8], "nice": false}, "axis": {"orient": "left", "values": [0, 0.3, 0.6], "title": null}},
                "color": {"field": "s", "type": "nominal"}
              }},
             {"data": {"values": [{}]}, "mark": {"type": "point", "opacity": 0}, "encoding": {
               "x": {"datum": 0, "type": "quantitative", "axis": {"orient": "top", "values": [0, 50, 100, 150], "labels": true, "title": null}},
               "y": {"datum": 0, "type": "quantitative", "axis": {"orient": "right", "values": [0, 0.3, 0.6], "format": ".1f", "labels": true, "title": null}}}},
             {"data": {"values": [{}]}, "mark": {"type": "point", "opacity": 0}, "encoding": {
               "x": {"datum": 0, "type": "quantitative", "axis": {"orient": "bottom", "values": [-25, 25, 75, 125], "tickSize": -8, "title": null}},
               "y": {"datum": 0, "type": "quantitative", "axis": {"orient": "left", "values": [0.15, 0.45, 0.75], "tickSize": -8, "title": null}}}},
             {"data": {"values": [{}]}, "mark": {"type": "point", "opacity": 0}, "encoding": {
               "x": {"datum": 0, "type": "quantitative", "axis": {"orient": "top", "values": [-25, 25, 75, 125], "tickSize": -8, "title": null}},
               "y": {"datum": 0, "type": "quantitative", "axis": {"orient": "right", "values": [0.15, 0.45, 0.75], "tickSize": -8, "title": null}}}},
             {"data": {"values": [{}]}, "mark": {"type": "text", "font": "Liberation Sans", "fontSize": 27, "color": "black", "align": "right", "baseline": "alphabetic"}, "encoding": {
               "x": {"datum": 140.6, "type": "quantitative", "axis": null}, "y": {"datum": 0.637, "type": "quantitative", "axis": null}, "text": {"value": "150 GPa"}}}
           ],
           "resolve": {"axis": {"x": "independent", "y": "independent"}}}
        ]
      },
      {
        "spacing": 18,
        "bounds": "flush",
        "hconcat": [
          {"width": 291, "height": 208,
           "layer": [
             {"data": {"name": "dos"}, "transform": [{"filter": "datum.p == 200"}, {"fold": ["X", "C", "P"], "as": ["s", "d"]}],
              "mark": {"type": "line", "strokeWidth": 2},
              "encoding": {
                "x": {"field": "f", "type": "quantitative", "scale": {"domain": [-30, 150], "nice": false}, "axis": {"orient": "bottom", "values": [0, 50, 100, 150], "title": null}},
                "y": {"field": "d", "type": "quantitative", "scale": {"domain": [0, 0.8], "nice": false}, "axis": {"orient": "left", "values": [0, 0.3, 0.6], "format": ".1f", "labels": true, "title": null}},
                "color": {"field": "s", "type": "nominal"}
              }},
             {"data": {"values": [{}]}, "mark": {"type": "point", "opacity": 0}, "encoding": {
               "x": {"datum": 0, "type": "quantitative", "axis": {"orient": "top", "values": [0, 50, 100, 150], "title": null}},
               "y": {"datum": 0, "type": "quantitative", "axis": {"orient": "right", "values": [0, 0.3, 0.6], "title": null}}}},
             {"data": {"values": [{}]}, "mark": {"type": "point", "opacity": 0}, "encoding": {
               "x": {"datum": 0, "type": "quantitative", "axis": {"orient": "bottom", "values": [-25, 25, 75, 125], "tickSize": -8, "title": null}},
               "y": {"datum": 0, "type": "quantitative", "axis": {"orient": "left", "values": [0.15, 0.45, 0.75], "tickSize": -8, "title": null}}}},
             {"data": {"values": [{}]}, "mark": {"type": "point", "opacity": 0}, "encoding": {
               "x": {"datum": 0, "type": "quantitative", "axis": {"orient": "top", "values": [-25, 25, 75, 125], "tickSize": -8, "title": null}},
               "y": {"datum": 0, "type": "quantitative", "axis": {"orient": "right", "values": [0.15, 0.45, 0.75], "tickSize": -8, "title": null}}}},
             {"data": {"values": [{}]}, "mark": {"type": "text", "font": "Liberation Sans", "fontSize": 27, "color": "black", "align": "left", "baseline": "alphabetic"}, "encoding": {
               "x": {"datum": -14.5, "type": "quantitative", "axis": null}, "y": {"datum": 0.669, "type": "quantitative", "axis": null}, "text": {"value": "200 GPa"}}}
           ],
           "resolve": {"axis": {"x": "independent", "y": "independent"}}},
          {"width": 291, "height": 208,
           "layer": [
             {"data": {"name": "dos"}, "transform": [{"filter": "datum.p == 250"}, {"fold": ["X", "C", "P"], "as": ["s", "d"]}],
              "mark": {"type": "line", "strokeWidth": 2},
              "encoding": {
                "x": {"field": "f", "type": "quantitative", "scale": {"domain": [-30, 150], "nice": false}, "axis": {"orient": "bottom", "values": [0, 50, 100, 150], "title": null}},
                "y": {"field": "d", "type": "quantitative", "scale": {"domain": [0, 0.8], "nice": false}, "axis": {"orient": "left", "values": [0, 0.3, 0.6], "title": null}},
                "color": {"field": "s", "type": "nominal"}
              }},
             {"data": {"values": [{}]}, "mark": {"type": "point", "opacity": 0}, "encoding": {
               "x": {"datum": 0, "type": "quantitative", "axis": {"orient": "top", "values": [0, 50, 100, 150], "title": null}},
               "y": {"datum": 0, "type": "quantitative", "axis": {"orient": "right", "values": [0, 0.3, 0.6], "format": ".1f", "labels": true, "title": null}}}},
             {"data": {"values": [{}]}, "mark": {"type": "point", "opacity": 0}, "encoding": {
               "x": {"datum": 0, "type": "quantitative", "axis": {"orient": "bottom", "values": [-25, 25, 75, 125], "tickSize": -8, "title": null}},
               "y": {"datum": 0, "type": "quantitative", "axis": {"orient": "left", "values": [0.15, 0.45, 0.75], "tickSize": -8, "title": null}}}},
             {"data": {"values": [{}]}, "mark": {"type": "point", "opacity": 0}, "encoding": {
               "x": {"datum": 0, "type": "quantitative", "axis": {"orient": "top", "values": [-25, 25, 75, 125], "tickSize": -8, "title": null}},
               "y": {"datum": 0, "type": "quantitative", "axis": {"orient": "right", "values": [0.15, 0.45, 0.75], "tickSize": -8, "title": null}}}},
             {"data": {"values": [{}]}, "mark": {"type": "text", "font": "Liberation Sans", "fontSize": 27, "color": "black", "align": "right", "baseline": "alphabetic"}, "encoding": {
               "x": {"datum": 140.6, "type": "quantitative", "axis": null}, "y": {"datum": 0.669, "type": "quantitative", "axis": null}, "text": {"value": "250 GPa"}}}
           ],
           "resolve": {"axis": {"x": "independent", "y": "independent"}}}
        ]
      },
      {
        "spacing": 18,
        "bounds": "flush",
        "hconcat": [
          {"width": 291, "height": 208,
           "layer": [
             {"data": {"name": "dos"}, "transform": [{"filter": "datum.p == 300"}, {"fold": ["X", "C", "P"], "as": ["s", "d"]}],
              "mark": {"type": "line", "strokeWidth": 2},
              "encoding": {
                "x": {"field": "f", "type": "quantitative", "scale": {"domain": [-30, 150], "nice": false}, "axis": {"orient": "bottom", "values": [0, 50, 100, 150], "title": null}},
                "y": {"field": "d", "type": "quantitative", "scale": {"domain": [0, 0.8], "nice": false}, "axis": {"orient": "left", "values": [0, 0.3, 0.6], "format": ".1f", "labels": true, "title": null}},
                "color": {"field": "s", "type": "nominal"}
              }},
             {"data": {"values": [{}]}, "mark": {"type": "point", "opacity": 0}, "encoding": {
               "x": {"datum": 0, "type": "quantitative", "axis": {"orient": "top", "values": [0, 50, 100, 150], "title": null}},
               "y": {"datum": 0, "type": "quantitative", "axis": {"orient": "right", "values": [0, 0.3, 0.6], "title": null}}}},
             {"data": {"values": [{}]}, "mark": {"type": "point", "opacity": 0}, "encoding": {
               "x": {"datum": 0, "type": "quantitative", "axis": {"orient": "bottom", "values": [-25, 25, 75, 125], "tickSize": -8, "title": null}},
               "y": {"datum": 0, "type": "quantitative", "axis": {"orient": "left", "values": [0.15, 0.45, 0.75], "tickSize": -8, "title": null}}}},
             {"data": {"values": [{}]}, "mark": {"type": "point", "opacity": 0}, "encoding": {
               "x": {"datum": 0, "type": "quantitative", "axis": {"orient": "top", "values": [-25, 25, 75, 125], "tickSize": -8, "title": null}},
               "y": {"datum": 0, "type": "quantitative", "axis": {"orient": "right", "values": [0.15, 0.45, 0.75], "tickSize": -8, "title": null}}}},
             {"data": {"values": [{}]}, "mark": {"type": "text", "font": "Liberation Sans", "fontSize": 27, "color": "black", "align": "left", "baseline": "alphabetic"}, "encoding": {
               "x": {"datum": -14.5, "type": "quantitative", "axis": null}, "y": {"datum": 0.669, "type": "quantitative", "axis": null}, "text": {"value": "300 GPa"}}}
           ],
           "resolve": {"axis": {"x": "independent", "y": "independent"}}},
          {"width": 291, "height": 208,
           "layer": [
             {"data": {"name": "dos"}, "transform": [{"filter": "datum.p == 350"}, {"fold": ["X", "C", "P"], "as": ["s", "d"]}],
              "mark": {"type": "line", "strokeWidth": 2},
              "encoding": {
                "x": {"field": "f", "type": "quantitative", "scale": {"domain": [-30, 150], "nice": false}, "axis": {"orient": "bottom", "values": [0, 50, 100, 150], "title": null}},
                "y": {"field": "d", "type": "quantitative", "scale": {"domain": [0, 0.8], "nice": false}, "axis": {"orient": "left", "values": [0, 0.3, 0.6], "title": null}},
                "color": {"field": "s", "type": "nominal"}
              }},
             {"data": {"values": [{}]}, "mark": {"type": "point", "opacity": 0}, "encoding": {
               "x": {"datum": 0, "type": "quantitative", "axis": {"orient": "top", "values": [0, 50, 100, 150], "title": null}},
               "y": {"datum": 0, "type": "quantitative", "axis": {"orient": "right", "values": [0, 0.3, 0.6], "format": ".1f", "labels": true, "title": null}}}},
             {"data": {"values": [{}]}, "mark": {"type": "point", "opacity": 0}, "encoding": {
               "x": {"datum": 0, "type": "quantitative", "axis": {"orient": "bottom", "values": [-25, 25, 75, 125], "tickSize": -8, "title": null}},
               "y": {"datum": 0, "type": "quantitative", "axis": {"orient": "left", "values": [0.15, 0.45, 0.75], "tickSize": -8, "title": null}}}},
             {"data": {"values": [{}]}, "mark": {"type": "point", "opacity": 0}, "encoding": {
               "x": {"datum": 0, "type": "quantitative", "axis": {"orient": "top", "values": [-25, 25, 75, 125], "tickSize": -8, "title": null}},
               "y": {"datum": 0, "type": "quantitative", "axis": {"orient": "right", "values": [0.15, 0.45, 0.75], "tickSize": -8, "title": null}}}},
             {"data": {"values": [{}]}, "mark": {"type": "text", "font": "Liberation Sans", "fontSize": 27, "color": "black", "align": "right", "baseline": "alphabetic"}, "encoding": {
               "x": {"datum": 140.6, "type": "quantitative", "axis": null}, "y": {"datum": 0.669, "type": "quantitative", "axis": null}, "text": {"value": "350 GPa"}}}
           ],
           "resolve": {"axis": {"x": "independent", "y": "independent"}}}
        ]
      },
      {
        "title": {"text": "Frequency / THz", "orient": "bottom", "offset": 5, "anchor": "middle"},
        "spacing": 18,
        "bounds": "flush",
        "hconcat": [
          {"width": 291, "height": 208,
           "layer": [
             {"data": {"name": "dos"}, "transform": [{"filter": "datum.p == 400"}, {"fold": ["X", "C", "P"], "as": ["s", "d"]}],
              "mark": {"type": "line", "strokeWidth": 2},
              "encoding": {
                "x": {"field": "f", "type": "quantitative", "scale": {"domain": [-30, 150], "nice": false}, "axis": {"orient": "bottom", "values": [0, 50, 100, 150], "labels": true, "title": null}},
                "y": {"field": "d", "type": "quantitative", "scale": {"domain": [0, 0.8], "nice": false}, "axis": {"orient": "left", "values": [0, 0.3, 0.6], "format": ".1f", "labels": true, "title": null}},
                "color": {"field": "s", "type": "nominal"}
              }},
             {"data": {"values": [{}]}, "mark": {"type": "point", "opacity": 0}, "encoding": {
               "x": {"datum": 0, "type": "quantitative", "axis": {"orient": "top", "values": [0, 50, 100, 150], "title": null}},
               "y": {"datum": 0, "type": "quantitative", "axis": {"orient": "right", "values": [0, 0.3, 0.6], "title": null}}}},
             {"data": {"values": [{}]}, "mark": {"type": "point", "opacity": 0}, "encoding": {
               "x": {"datum": 0, "type": "quantitative", "axis": {"orient": "bottom", "values": [-25, 25, 75, 125], "tickSize": -8, "title": null}},
               "y": {"datum": 0, "type": "quantitative", "axis": {"orient": "left", "values": [0.15, 0.45, 0.75], "tickSize": -8, "title": null}}}},
             {"data": {"values": [{}]}, "mark": {"type": "point", "opacity": 0}, "encoding": {
               "x": {"datum": 0, "type": "quantitative", "axis": {"orient": "top", "values": [-25, 25, 75, 125], "tickSize": -8, "title": null}},
               "y": {"datum": 0, "type": "quantitative", "axis": {"orient": "right", "values": [0.15, 0.45, 0.75], "tickSize": -8, "title": null}}}},
             {"data": {"values": [{}]}, "mark": {"type": "text", "font": "Liberation Sans", "fontSize": 27, "color": "black", "align": "left", "baseline": "alphabetic"}, "encoding": {
               "x": {"datum": -14.5, "type": "quantitative", "axis": null}, "y": {"datum": 0.637, "type": "quantitative", "axis": null}, "text": {"value": "400 GPa"}}}
           ],
           "resolve": {"axis": {"x": "independent", "y": "independent"}}},
          {"width": 291, "height": 208,
           "layer": [
             {"layer": [
               {"data": {"name": "dos"}, "transform": [{"filter": "datum.p == 500"}, {"fold": ["X", "C", "P"], "as": ["s", "d"]}],
                "mark": {"type": "line", "strokeWidth": 2},
                "encoding": {
                  "x": {"field": "f", "type": "quantitative", "scale": {"domain": [-30, 150], "nice": false}, "axis": {"orient": "bottom", "values": [0, 50, 100, 150], "labels": true, "title": null}},
                  "y": {"field": "d", "type": "quantitative", "scale": {"domain": [0, 0.8], "nice": false}, "axis": {"orient": "left", "values": [0, 0.3, 0.6], "title": null}},
                  "color": {"field": "s", "type": "nominal"}
                }},
               {"data": {"values": [{}]}, "mark": {"type": "point", "opacity": 0}, "encoding": {
                 "x": {"datum": 0, "type": "quantitative", "axis": {"orient": "top", "values": [0, 50, 100, 150], "title": null}},
                 "y": {"datum": 0, "type": "quantitative", "axis": {"orient": "right", "values": [0, 0.3, 0.6], "format": ".1f", "labels": true, "title": null}}}},
               {"data": {"values": [{}]}, "mark": {"type": "point", "opacity": 0}, "encoding": {
                 "x": {"datum": 0, "type": "quantitative", "axis": {"orient": "bottom", "values": [-25, 25, 75, 125], "tickSize": -8, "title": null}},
                 "y": {"datum": 0, "type": "quantitative", "axis": {"orient": "left", "values": [0.15, 0.45, 0.75], "tickSize": -8, "title": null}}}},
               {"data": {"values": [{}]}, "mark": {"type": "point", "opacity": 0}, "encoding": {
                 "x": {"datum": 0, "type": "quantitative", "axis": {"orient": "top", "values": [-25, 25, 75, 125], "tickSize": -8, "title": null}},
                 "y": {"datum": 0, "type": "quantitative", "axis": {"orient": "right", "values": [0.15, 0.45, 0.75], "tickSize": -8, "title": null}}}},
               {"data": {"values": [{}]}, "mark": {"type": "text", "font": "Liberation Sans", "fontSize": 27, "color": "black", "align": "right", "baseline": "alphabetic"}, "encoding": {
                 "x": {"datum": 140.6, "type": "quantitative", "axis": null}, "y": {"datum": 0.637, "type": "quantitative", "axis": null}, "text": {"value": "500 GPa"}}},
               {"data": {"values": [{}]}, "mark": {"type": "rect", "fill": "white", "stroke": "black", "strokeWidth": 1.5}, "encoding": {
                 "x": {"datum": -20, "type": "quantitative", "axis": null}, "x2": {"datum": 31.6},
                 "y": {"datum": 0.745, "type": "quantitative", "axis": null}, "y2": {"datum": 0.455}}},
               {"data": {"values": [{}]}, "mark": {"type": "rule", "color": "black", "strokeWidth": 1.5}, "encoding": {
                 "x": {"datum": -20, "type": "quantitative", "axis": null}, "x2": {"datum": -6},
                 "y": {"datum": 0.455, "type": "quantitative", "axis": null}, "y2": {"datum": 0}}},
               {"data": {"values": [{}]}, "mark": {"type": "rule", "color": "black", "strokeWidth": 1.5}, "encoding": {
                 "x": {"datum": 31.6, "type": "quantitative", "axis": null}, "x2": {"datum": 2},
                 "y": {"datum": 0.455, "type": "quantitative", "axis": null}, "y2": {"datum": 0}}}
             ],
             "resolve": {"axis": {"x": "independent", "y": "independent"}}},
             {"layer": [
               {"data": {"name": "inset"}, "transform": [{"fold": ["X", "C", "P"], "as": ["s", "d"]}],
                "mark": {"type": "line", "strokeWidth": 2},
                "encoding": {
                  "x": {"field": "f", "type": "quantitative", "scale": {"domain": [-6, 2], "range": [16.2, 99.6], "nice": false}, "axis": {"orient": "bottom", "offset": -115.7, "values": [-4, -2, 0], "tickSize": -5, "labels": true, "labelPadding": 14, "labelFontSize": 22, "labelExpr": "datum.value == -4 ? '-4' : datum.value == 0 ? '0' : ''", "title": null}},
                  "y": {"field": "d", "type": "quantitative", "scale": {"domain": [-0.01, 0.01], "range": [89.7, 14.3], "nice": false, "zero": false}, "axis": {"orient": "left", "offset": -16.2, "values": [-0.005, 0, 0.005], "tickSize": -5, "title": null}},
                  "color": {"field": "s", "type": "nominal"}
                }},
               {"data": {"values": [{}]}, "mark": {"type": "point", "opacity": 0}, "encoding": {
                 "x": {"datum": 0, "type": "quantitative", "axis": {"orient": "top", "offset": -14.3, "values": [-4, -2, 0], "tickSize": -5, "title": null}},
                 "y": {"datum": 0, "type": "quantitative", "axis": {"orient": "right", "offset": -191.4, "values": [-0.01, -0.005, 0, 0.005, 0.01], "tickSize": -5, "labels": true, "labelPadding": 14, "labelFontSize": 22, "labelExpr": "datum.value == 0.01 ? '0.01' : datum.value == -0.01 ? '-0.01' : datum.value == 0 ? '0.00' : ''", "title": null}}}}
             ],
             "resolve": {"axis": {"x": "independent", "y": "independent"}}}
           ],
           "resolve": {"scale": {"x": "independent", "y": "independent"}, "axis": {"x": "independent", "y": "independent"}}}
        ]
      }
    ]
  }]
}
